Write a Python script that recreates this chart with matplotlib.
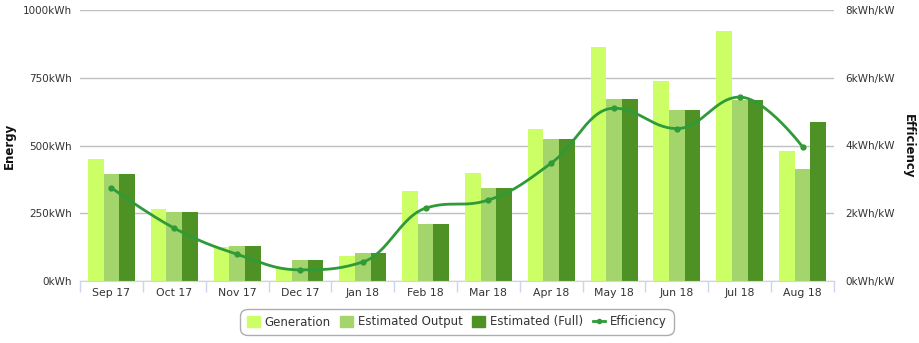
import numpy as np
import matplotlib.pyplot as plt
from matplotlib.patches import Patch
from matplotlib.lines import Line2D

months = ['Sep 17', 'Oct 17', 'Nov 17', 'Dec 17', 'Jan 18', 'Feb 18',
          'Mar 18', 'Apr 18', 'May 18', 'Jun 18', 'Jul 18', 'Aug 18']
generation = [450, 266, 125, 48, 92, 332, 398, 561, 863, 738, 922, 480]
estimated_output = [395, 255, 129, 77, 103, 210, 343, 524, 672, 631, 668, 413]
estimated_full = [395, 255, 129, 77, 103, 210, 343, 524, 672, 631, 668, 587]
efficiency = [2.75, 1.56, 0.79, 0.33, 0.56, 2.15, 2.39, 3.48, 5.10, 4.50, 5.43, 3.96]

left_ticks = [0, 250, 500, 750, 1000]
left_labels = ['0kWh', '250kWh', '500kWh', '750kWh', '1000kWh']
right_ticks = [0, 2, 4, 6, 8]
right_labels = ['0kWh/kW', '2kWh/kW', '4kWh/kW', '6kWh/kW', '8kWh/kW']

c_gen = '#ccff66'
c_est = '#a3d56c'
c_full = '#4e9226'
c_eff = '#2f9a38'


def spline_path(xs, ys, n=30):
    # cubic bezier smoothing between points (smoothing 1.5, denominator 2.5)
    xs = np.asarray(xs, float)
    ys = np.asarray(ys, float)
    k = len(xs)
    lc = np.zeros((k, 2))
    rc = np.zeros((k, 2))
    for i in range(k):
        x, y = xs[i], ys[i]
        lc[i] = rc[i] = (x, y)
        if 0 < i < k - 1:
            lx = (1.5 * x + xs[i - 1]) / 2.5
            ly = (1.5 * y + ys[i - 1]) / 2.5
            rx = (1.5 * x + xs[i + 1]) / 2.5
            ry = (1.5 * y + ys[i + 1]) / 2.5
            corr = (ry - ly) * (rx - x) / (rx - lx) + y - ry
            ly += corr
            ry += corr
            if ly > max(ys[i - 1], y):
                ly = max(ys[i - 1], y)
                ry = 2 * y - ly
            elif ly < min(ys[i - 1], y):
                ly = min(ys[i - 1], y)
                ry = 2 * y - ly
            if ry > max(ys[i + 1], y):
                ry = max(ys[i + 1], y)
                ly = 2 * y - ry
            elif ry < min(ys[i + 1], y):
                ry = min(ys[i + 1], y)
                ly = 2 * y - ry
            lc[i] = (lx, ly)
            rc[i] = (rx, ry)
    t = np.linspace(0, 1, n)[:, None]
    segs = []
    for i in range(k - 1):
        p0 = np.array([xs[i], ys[i]])
        p1 = rc[i]
        p2 = lc[i + 1]
        p3 = np.array([xs[i + 1], ys[i + 1]])
        b = ((1 - t) ** 3) * p0 + 3 * ((1 - t) ** 2) * t * p1 \
            + 3 * (1 - t) * t ** 2 * p2 + t ** 3 * p3
        segs.append(b if i == 0 else b[1:])
    pts = np.vstack(segs)
    return pts[:, 0], pts[:, 1]


plt.rcParams['font.family'] = ['DejaVu Sans']
fig = plt.figure(figsize=(9.19, 3.43), dpi=100)
ax = fig.add_axes([80 / 919, 62 / 343, 754 / 919, 271 / 343])

x = np.arange(len(months))
w = 0.25
ax.bar(x - w, generation, w, color=c_gen, zorder=2)
ax.bar(x, estimated_output, w, color=c_est, zorder=2)
ax.bar(x + w, estimated_full, w, color=c_full, zorder=2)

ax.set_xlim(-0.5, len(months) - 0.5)
ax.set_ylim(0, 1000)
ax.set_yticks(left_ticks)
ax.set_yticklabels(left_labels)
ax.yaxis.grid(True, color='#c0c0c0', linewidth=1)
ax.set_axisbelow(True)
ax.tick_params(axis='y', length=0, pad=6, labelsize=7.5, labelcolor='#333333')
ax.set_xticks(x)
ax.set_xticklabels(months)
ax.tick_params(axis='x', length=0, pad=5, labelsize=7.8, labelcolor='#333333')
ax.set_xticks(np.arange(len(months) + 1) - 0.5, minor=True)
ax.tick_params(axis='x', which='minor', length=8, color='#ccd6eb', width=1)
for s in ['top', 'left', 'right']:
    ax.spines[s].set_visible(False)
ax.spines['bottom'].set_color('#ccd6eb')
fig.text(9 / 919, 1 - 146 / 343, 'Energy', rotation=90, fontsize=8.5,
         fontweight='bold', ha='center', va='center', color='#111111')

ax2 = ax.twinx()
ax2.set_ylim(0, 8)
ax2.set_yticks(right_ticks)
ax2.set_yticklabels(right_labels)
ax2.tick_params(axis='y', length=0, pad=8, labelsize=7.5, labelcolor='#333333')
for s in ax2.spines.values():
    s.set_visible(False)
fig.text(908 / 919, 1 - 146 / 343, 'Efficiency', rotation=270, fontsize=8.5,
         fontweight='bold', ha='center', va='center', color='#111111')

sx, sy = spline_path(x, efficiency)
ax2.plot(sx, sy, color=c_eff, linewidth=2, zorder=3)
ax2.plot(x, efficiency, 'o', color=c_eff, markersize=3.5, zorder=4)

handles = [Patch(color=c_gen, label='Generation'),
           Patch(color=c_est, label='Estimated Output'),
           Patch(color=c_full, label='Estimated (Full)'),
           Line2D([0], [0], color=c_eff, lw=2, marker='o', markersize=3,
                  label='Efficiency')]
leg = fig.legend(handles=handles, loc='center', bbox_to_anchor=(457 / 919, 1 - 322 / 343),
                 ncol=4, frameon=True, fontsize=8.5, handlelength=1.1, handleheight=1.1,
                 handletextpad=0.4, columnspacing=0.8, borderpad=0.55, fancybox=True)
leg.get_frame().set_edgecolor('#999999')
leg.get_frame().set_linewidth(1)
leg.get_frame().set_boxstyle('round', pad=0, rounding_size=0.6)
for t in leg.get_texts():
    t.set_color('#333333')

fig.savefig('out.png', dpi=100)
